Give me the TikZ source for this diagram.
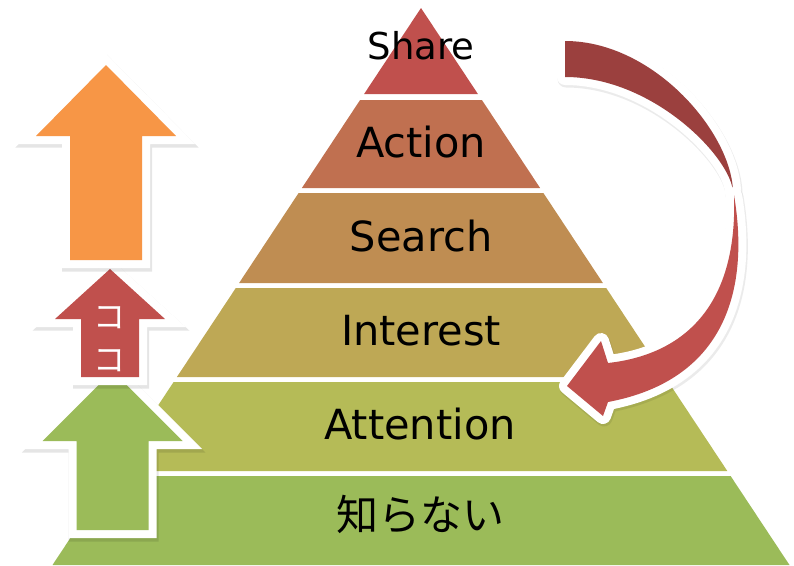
\documentclass[tikz,border=0pt]{standalone}
\usepackage{fontspec}
\setmainfont{DejaVu Sans}
\newfontfamily\jp{Noto Sans CJK JP}
\definecolor{cShare}{HTML}{C0504D}
\definecolor{cAction}{HTML}{C07050}
\definecolor{cSearch}{HTML}{BF8D52}
\definecolor{cInterest}{HTML}{BEA855}
\definecolor{cAttention}{HTML}{B5BB57}
\definecolor{cShira}{HTML}{9BBB59}
\definecolor{cOrange}{HTML}{F79646}
\definecolor{cDark}{HTML}{9B403E}
\begin{document}
\begin{tikzpicture}[x=1pt,y=-1pt,
  lbl/.style={inner sep=0pt, anchor=base, font=\fontsize{41.5}{48}\selectfont},
  jlbl/.style={inner sep=0pt, anchor=center, font=\jp\fontsize{42}{48}\selectfont},
  koko/.style={inner sep=0pt, anchor=center, text=white, font=\jp\fontsize{32}{34}\selectfont},
  arrowbox/.style={
    preaction={draw=black, draw opacity=0.10, line width=18pt, line join=miter,
      transform canvas={xshift=1pt, yshift=-2.5pt}},
    preaction={draw=white, line width=16pt, line join=miter}},
  curvebox/.style={
    preaction={draw=black, draw opacity=0.08, line width=17pt, line join=round,
      transform canvas={xshift=1pt, yshift=-2pt}},
    preaction={draw=white, line width=16pt, line join=round}}
]
\useasboundingbox (0,0) rectangle (794,565);

% pyramid
\fill[cShare] (421,8) -- (477.9,94) -- (364.1,94) -- cycle;
\fill[cAction] (360.1,100) -- (481.9,100) -- (540.1,188) -- (301.9,188) -- cycle;
\fill[cSearch] (298.6,193) -- (543.4,193) -- (602.9,283) -- (239.1,283) -- cycle;
\fill[cInterest] (235.8,288) -- (606.2,288) -- (665.1,377) -- (176.9,377) -- cycle;
\fill[cAttention] (173.6,382) -- (668.4,382) -- (727.3,471) -- (114.7,471) -- cycle;
\fill[cShira] (111.4,476) -- (730.6,476) -- (789.5,565) -- (52.5,565) -- cycle;

\node[lbl, font=\fontsize{37}{40}\selectfont] (share) at (421,59) {Share};
\node[lbl] (action) at (421,157) {Action};
\node[lbl] (search) at (421,251) {Search};
\node[lbl] (interest) at (421,345) {Interest};
\node[lbl] (attention) at (420,439) {Attention};
\node[jlbl] (shiranai) at (420,514) {知らない};

% curved arrow
\path[curvebox, fill=cDark] (565,41) .. controls (655,41) and (733,135) .. (733,193)
  .. controls (733,160) and (655,77) .. (565,77) -- cycle;
\path[curvebox, fill=cShare] (734,195) .. controls (750,290) and (725,380) .. (608,402)
  -- (603,416) -- (567,386) -- (601,341) -- (608,363)
  .. controls (680,355) and (738,310) .. (734,195) -- cycle;

% left arrows
\path[arrowbox, fill=cShira] (112.7,371) -- (182.7,441) -- (148.7,441) -- (148.7,530)
  -- (76.7,530) -- (76.7,441) -- (42.7,441) -- cycle;
\path[arrowbox, fill=cShare] (110,269) -- (165,319) -- (139,319) -- (139,377)
  -- (81,377) -- (81,319) -- (55,319) -- cycle;
\path[arrowbox, fill=cOrange] (106,65) -- (176,136) -- (142,136) -- (142,260)
  -- (70,260) -- (70,136) -- (36,136) -- cycle;

\node[koko] (koko1) at (109,318) {コ};
\node[koko] (koko2) at (109,361) {コ};
\end{tikzpicture}
\end{document}
